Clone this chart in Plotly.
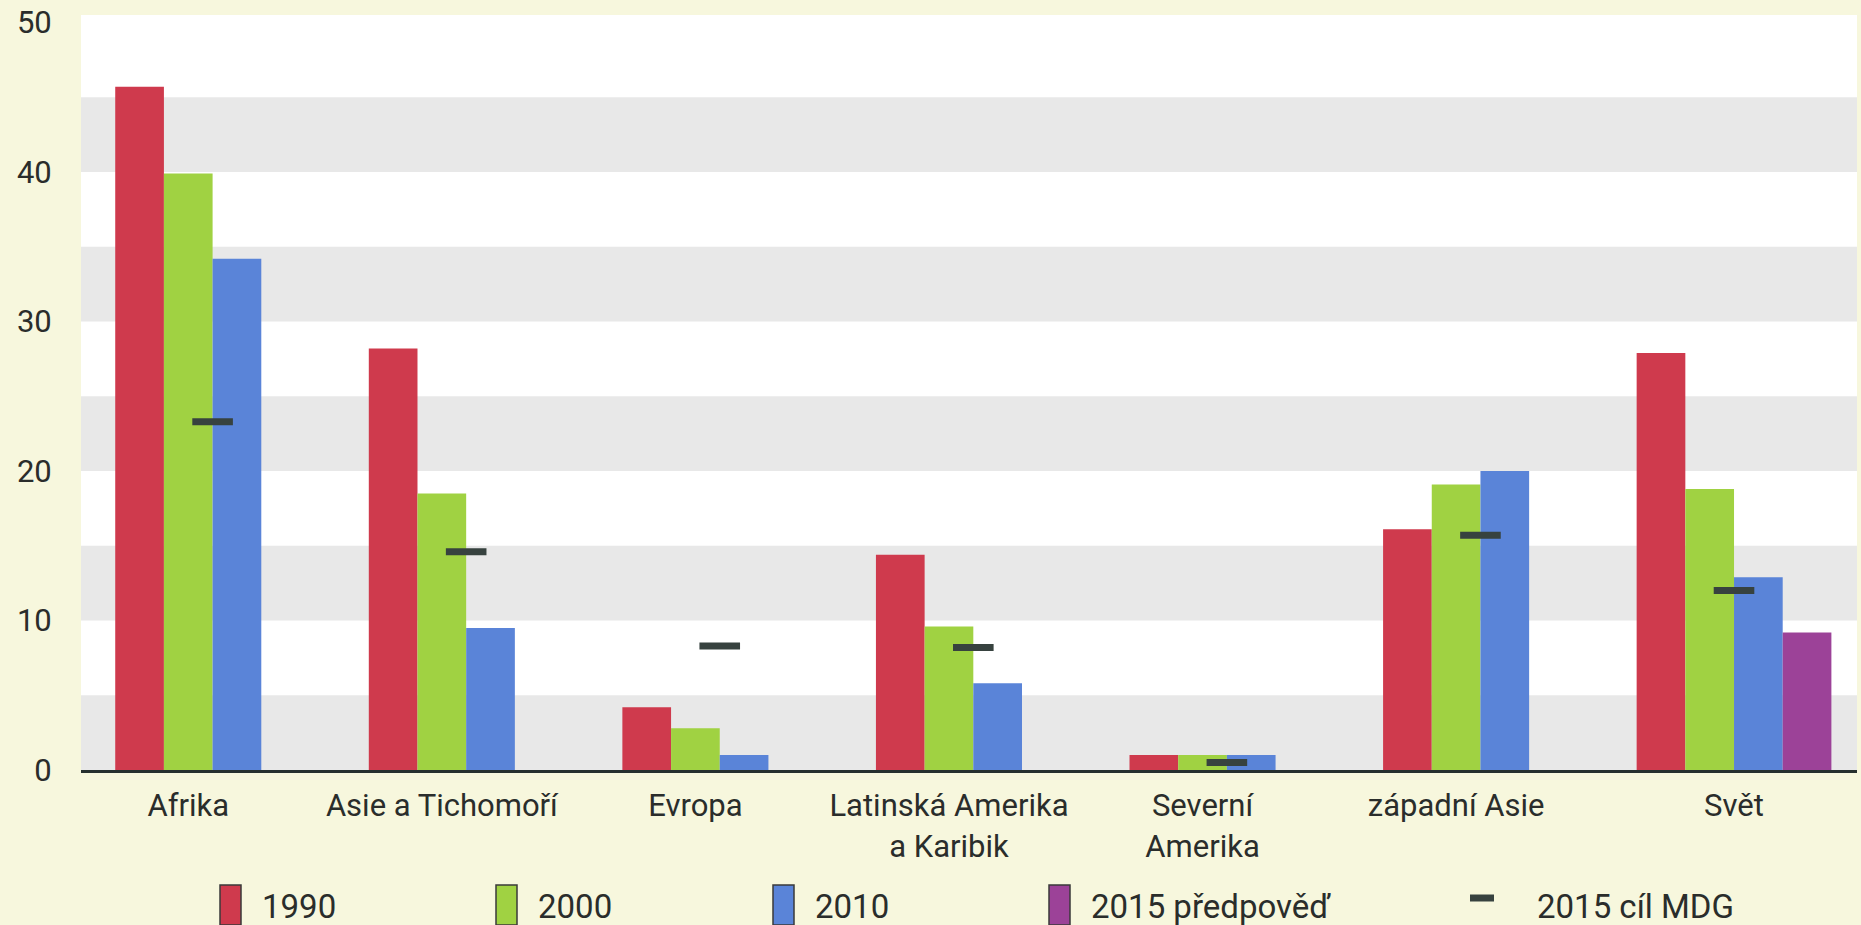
import plotly.graph_objects as go

# ---- data -------------------------------------------------------------
categories = [
    "Afrika",
    "Asie a Tichomoří",
    "Evropa",
    "Latinská Amerika<br>a Karibik",
    "Severní<br>Amerika",
    "západní Asie",
    "Svět",
]
v1990 = [45.7, 28.2, 4.2, 14.4, 1.0, 16.1, 27.9]
v2000 = [39.9, 18.5, 2.8, 9.6, 1.0, 19.1, 18.8]
v2010 = [34.2, 9.5, 1.0, 5.8, 1.0, 20.0, 12.9]
v2015 = [None, None, None, None, None, None, 9.2]
mdg_target = [23.3, 14.6, 8.3, 8.2, 0.5, 15.7, 12.0]

y_ticks = [0, 10, 20, 30, 40, 50]

series_names = ["1990", "2000", "2010", "2015 předpověď"]
series_values = [v1990, v2000, v2010, v2015]
series_colors = ["#cf3a4d", "#a0d242", "#5a84d8", "#9c4298"]
mdg_name = "2015 cíl MDG"
mdg_color = "#37423f"

# ---- style -------------------------------------------------------------
W, H = 1861, 925
M_L, M_R, M_T, M_B = 81, 4, 15, 155
PAGE_BG = "#f7f7dd"
BAND_GREY = "#e8e8e8"
TEXT = "#2a2d2b"
FONT = "Roboto, 'Open Sans', sans-serif"
FS_AXIS = 31
FS_LEGEND = 33
BARGAP = 0.232
Y_MAX = 50.5

x = list(range(len(categories)))
n_series = len(series_values)
slot = (1 - BARGAP) / n_series

# tick labels sit under the bars that are actually present in each group
tick_pos = []
for i in x:
    n_present = sum(1 for s in series_values if s[i] is not None)
    tick_pos.append(i - 2 * slot + n_present * slot / 2)

fig = go.Figure()
for name, vals, col in zip(series_names, series_values, series_colors):
    fig.add_trace(go.Bar(
        x=x, y=vals, name=name,
        marker=dict(color=col, line=dict(width=0)),
        showlegend=False,
    ))

fig.add_trace(go.Scatter(
    x=x, y=mdg_target, name=mdg_name, mode="markers",
    marker=dict(symbol="line-ew", size=29,
                line=dict(width=7, color=mdg_color), color=mdg_color),
    showlegend=False,
))

# alternating horizontal bands behind the bars
shapes = []
for lo in range(0, 50, 10):
    shapes.append(dict(type="rect", xref="paper", yref="y", x0=0, x1=1,
                       y0=lo, y1=lo + 5, fillcolor=BAND_GREY,
                       line=dict(width=0), layer="below"))

# hand-drawn legend along the bottom
plot_w = W - M_L - M_R
plot_h = H - M_T - M_B


def px(xp):
    return (xp - M_L) / plot_w


def py(yp):
    return (H - M_B - yp) / plot_h


annotations = []
legend_left = [220, 496, 773, 1049]
for left, name, col in zip(legend_left, series_names, series_colors):
    shapes.append(dict(type="rect", xref="paper", yref="paper",
                       x0=px(left), x1=px(left + 21), y0=py(925), y1=py(885),
                       fillcolor=col, line=dict(width=1.5, color="#3a3a3a")))
    annotations.append(dict(xref="paper", yref="paper", x=px(left + 40), y=py(906),
                            text=name, showarrow=False, xanchor="left",
                            yanchor="middle",
                            font=dict(family=FONT, size=FS_LEGEND, color=TEXT)))

shapes.append(dict(type="line", xref="paper", yref="paper",
                   x0=px(1470), x1=px(1494), y0=py(898), y1=py(898),
                   line=dict(width=7, color=mdg_color)))
annotations.append(dict(xref="paper", yref="paper", x=px(1535), y=py(906),
                        text=mdg_name, showarrow=False, xanchor="left",
                        yanchor="middle",
                        font=dict(family=FONT, size=FS_LEGEND, color=TEXT)))

fig.update_layout(
    width=W, height=H,
    margin=dict(l=M_L, r=M_R, t=M_T, b=M_B, pad=0),
    paper_bgcolor=PAGE_BG,
    plot_bgcolor="#ffffff",
    barmode="group",
    bargap=BARGAP,
    bargroupgap=0,
    shapes=shapes,
    annotations=annotations,
    font=dict(family=FONT, size=FS_AXIS, color=TEXT),
    xaxis=dict(
        range=[-0.519, 6.485],
        tickmode="array", tickvals=tick_pos, ticktext=categories,
        ticks="outside", ticklen=6, tickcolor="rgba(0,0,0,0)",
        showgrid=False, zeroline=False,
        showline=True, linecolor="#26302e", linewidth=3,
        tickfont=dict(family=FONT, size=FS_AXIS, color=TEXT),
        fixedrange=True,
    ),
    yaxis=dict(
        range=[0, Y_MAX],
        tickmode="array", tickvals=y_ticks,
        ticks="outside", ticklen=22, tickcolor="rgba(0,0,0,0)",
        showgrid=False, zeroline=False, showline=False,
        tickfont=dict(family=FONT, size=FS_AXIS, color=TEXT),
        fixedrange=True,
    ),
)

fig.write_html("out.html")
